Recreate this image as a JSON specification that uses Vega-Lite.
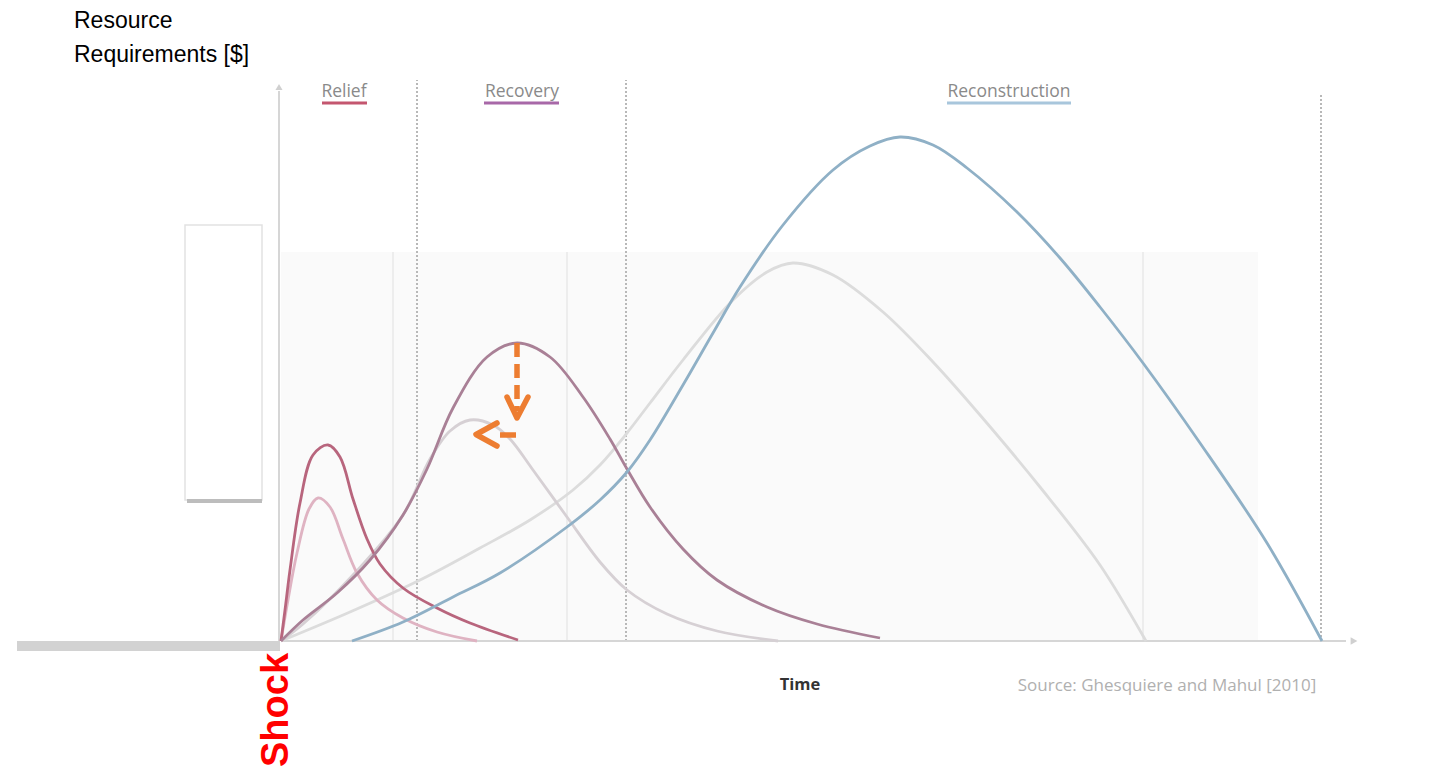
{
  "$schema": "https://vega.github.io/schema/vega-lite/v6.json",
  "width": 1437,
  "height": 770,
  "autosize": "none",
  "padding": 0,
  "background": "white",
  "config": {"view": {"stroke": null}},
  "encoding": {
    "x": {"field": "x", "type": "quantitative", "scale": {"domain": [-28.1, 115.6], "nice": false, "zero": false}, "axis": null},
    "y": {"field": "y", "type": "quantitative", "scale": {"domain": [-12.9, 64.1], "nice": false, "zero": false}, "axis": null}
  },
  "resolve": {"scale": {"color": "independent"}},
  "layer": [
    {
      "data": {"values": [{"x": 0, "x2": 97.7, "y": 0, "y2": 38.9}]},
      "mark": {"type": "rect", "fill": "#fafafa"},
      "encoding": {"x2": {"field": "x2"}, "y2": {"field": "y2"}}
    },
    {
      "data": {"values": [{"x": -9.6, "x2": -1.9, "y": 14.1, "y2": 41.6}]},
      "mark": {"type": "rect", "fill": "#ffffff", "stroke": "#e2e2e2", "strokeWidth": 1.5},
      "encoding": {"x2": {"field": "x2"}, "y2": {"field": "y2"}}
    },
    {
      "data": {"values": [{"x": -9.4, "x2": -1.9, "y": 14.0}]},
      "mark": {"type": "rule", "color": "#bdbdbd", "strokeWidth": 4},
      "encoding": {"x2": {"field": "x2"}}
    },
    {
      "data": {"values": [{"x": 11.2, "y": 0, "y2": 38.9}, {"x": 28.6, "y": 0, "y2": 38.9}, {"x": 86.2, "y": 0, "y2": 38.9}]},
      "mark": {"type": "rule", "color": "#e9e9e9", "strokeWidth": 1.5},
      "encoding": {"y2": {"field": "y2"}}
    },
    {
      "data": {"values": [{"x": 13.6, "y": 0, "y2": 56.1}, {"x": 34.5, "y": 0, "y2": 56.1}, {"x": 104.0, "y": 0, "y2": 54.6}]},
      "mark": {"type": "rule", "color": "#b8b8b8", "strokeWidth": 2, "strokeDash": [2, 2]},
      "encoding": {"y2": {"field": "y2"}}
    },
    {
      "data": {"values": [{"x": -0.2, "y": 0, "y2": 55.0}]},
      "mark": {"type": "rule", "color": "#d6d6d6", "strokeWidth": 2},
      "encoding": {"y2": {"field": "y2"}}
    },
    {
      "data": {"values": [{"x": 0, "x2": 106.5, "y": 0}]},
      "mark": {"type": "rule", "color": "#d6d6d6", "strokeWidth": 2},
      "encoding": {"x2": {"field": "x2"}}
    },
    {
      "data": {"values": [{"x": -26.4, "x2": -0.1, "y": -0.5}]},
      "mark": {"type": "rule", "color": "#d2d2d2", "strokeWidth": 10},
      "encoding": {"x2": {"field": "x2"}}
    },
    {
      "data": {"values": [{"x": -0.2, "y": 55.4}]},
      "mark": {"type": "point", "shape": "triangle-up", "filled": true, "size": 50, "color": "#d0d0d0", "opacity": 1}
    },
    {
      "data": {"values": [{"x": 107.3, "y": 0}]},
      "mark": {"type": "point", "shape": "triangle-right", "filled": true, "size": 60, "color": "#d0d0d0", "opacity": 1}
    },
    {
      "data": {"values": [
        {"p": "Relief", "x": 4.1, "x2": 8.6, "y": 53.8},
        {"p": "Recovery", "x": 20.3, "x2": 27.8, "y": 53.8},
        {"p": "Reconstruction", "x": 66.6, "x2": 79.0, "y": 53.8}
      ]},
      "mark": {"type": "rule", "strokeWidth": 3},
      "encoding": {
        "x2": {"field": "x2"},
        "color": {"field": "p", "type": "nominal", "legend": null,
          "scale": {"domain": ["Relief", "Recovery", "Reconstruction"], "range": ["#c4566f", "#a868a8", "#a8c6dc"]}}
      }
    },
    {
      "data": {"values": [
        {"s": "Reconstruction (reduced)", "x": 0, "y": 0}, {"s": "Reconstruction (reduced)", "x": 6.9, "y": 2.9}, {"s": "Reconstruction (reduced)", "x": 13.9, "y": 6.1}, {"s": "Reconstruction (reduced)", "x": 19.9, "y": 9.3}, {"s": "Reconstruction (reduced)", "x": 24.9, "y": 12.1}, {"s": "Reconstruction (reduced)", "x": 29.2, "y": 15.1}, {"s": "Reconstruction (reduced)", "x": 31.9, "y": 17.6}, {"s": "Reconstruction (reduced)", "x": 34.6, "y": 20.8}, {"s": "Reconstruction (reduced)", "x": 36.9, "y": 23.8}, {"s": "Reconstruction (reduced)", "x": 40.2, "y": 28.1}, {"s": "Reconstruction (reduced)", "x": 45.2, "y": 34.1}, {"s": "Reconstruction (reduced)", "x": 48.6, "y": 36.9}, {"s": "Reconstruction (reduced)", "x": 51.2, "y": 37.8}, {"s": "Reconstruction (reduced)", "x": 55.2, "y": 36.6}, {"s": "Reconstruction (reduced)", "x": 60.2, "y": 32.9}, {"s": "Reconstruction (reduced)", "x": 65.2, "y": 27.9}, {"s": "Reconstruction (reduced)", "x": 69.9, "y": 22.6}, {"s": "Reconstruction (reduced)", "x": 75.9, "y": 15.4}, {"s": "Reconstruction (reduced)", "x": 81.9, "y": 7.6}, {"s": "Reconstruction (reduced)", "x": 86.5, "y": 0},
        {"s": "Recovery (reduced)", "x": 0, "y": 0}, {"s": "Recovery (reduced)", "x": 2.2, "y": 1.7}, {"s": "Recovery (reduced)", "x": 7.2, "y": 6.6}, {"s": "Recovery (reduced)", "x": 12.2, "y": 12.6}, {"s": "Recovery (reduced)", "x": 14.9, "y": 18.2}, {"s": "Recovery (reduced)", "x": 16.9, "y": 21.0}, {"s": "Recovery (reduced)", "x": 18.9, "y": 22.1}, {"s": "Recovery (reduced)", "x": 21.2, "y": 21.6}, {"s": "Recovery (reduced)", "x": 22.9, "y": 20.2}, {"s": "Recovery (reduced)", "x": 25.2, "y": 17.1}, {"s": "Recovery (reduced)", "x": 28.6, "y": 12.4}, {"s": "Recovery (reduced)", "x": 31.9, "y": 7.9}, {"s": "Recovery (reduced)", "x": 34.6, "y": 5.1}, {"s": "Recovery (reduced)", "x": 38.6, "y": 2.7}, {"s": "Recovery (reduced)", "x": 43.6, "y": 1.0}, {"s": "Recovery (reduced)", "x": 49.7, "y": 0},
        {"s": "Relief (reduced)", "x": 0, "y": 0}, {"s": "Relief (reduced)", "x": 0.7, "y": 4.1}, {"s": "Relief (reduced)", "x": 1.6, "y": 8.8}, {"s": "Relief (reduced)", "x": 2.8, "y": 13.2}, {"s": "Relief (reduced)", "x": 3.7, "y": 14.3}, {"s": "Relief (reduced)", "x": 4.9, "y": 13.4}, {"s": "Relief (reduced)", "x": 6.2, "y": 10.2}, {"s": "Relief (reduced)", "x": 7.6, "y": 6.8}, {"s": "Relief (reduced)", "x": 9.6, "y": 4.1}, {"s": "Relief (reduced)", "x": 12.2, "y": 2.3}, {"s": "Relief (reduced)", "x": 15.6, "y": 0.9}, {"s": "Relief (reduced)", "x": 19.6, "y": 0},
        {"s": "Relief", "x": 0, "y": 0}, {"s": "Relief", "x": 0.4, "y": 3.1}, {"s": "Relief", "x": 0.9, "y": 7.1}, {"s": "Relief", "x": 1.9, "y": 13.8}, {"s": "Relief", "x": 3.2, "y": 18.6}, {"s": "Relief", "x": 4.7, "y": 19.6}, {"s": "Relief", "x": 5.9, "y": 18.4}, {"s": "Relief", "x": 7.2, "y": 14.2}, {"s": "Relief", "x": 8.6, "y": 10.2}, {"s": "Relief", "x": 9.9, "y": 7.7}, {"s": "Relief", "x": 12.2, "y": 5.3}, {"s": "Relief", "x": 15.6, "y": 3.3}, {"s": "Relief", "x": 18.9, "y": 1.8}, {"s": "Relief", "x": 23.7, "y": 0.1},
        {"s": "Recovery", "x": 0, "y": 0}, {"s": "Recovery", "x": 2.2, "y": 2.1}, {"s": "Recovery", "x": 5.6, "y": 4.8}, {"s": "Recovery", "x": 8.9, "y": 8.1}, {"s": "Recovery", "x": 12.2, "y": 12.6}, {"s": "Recovery", "x": 14.6, "y": 17.2}, {"s": "Recovery", "x": 17.2, "y": 23.3}, {"s": "Recovery", "x": 20.6, "y": 28.4}, {"s": "Recovery", "x": 23.6, "y": 29.8}, {"s": "Recovery", "x": 26.9, "y": 28.4}, {"s": "Recovery", "x": 30.2, "y": 24.4}, {"s": "Recovery", "x": 32.9, "y": 20.2}, {"s": "Recovery", "x": 34.6, "y": 17.2}, {"s": "Recovery", "x": 36.9, "y": 13.4}, {"s": "Recovery", "x": 40.2, "y": 9.2}, {"s": "Recovery", "x": 43.6, "y": 6.1}, {"s": "Recovery", "x": 48.6, "y": 3.4}, {"s": "Recovery", "x": 53.6, "y": 1.7}, {"s": "Recovery", "x": 59.9, "y": 0.3},
        {"s": "Reconstruction", "x": 7.1, "y": 0}, {"s": "Reconstruction", "x": 12.2, "y": 1.9}, {"s": "Reconstruction", "x": 17.2, "y": 4.4}, {"s": "Reconstruction", "x": 21.9, "y": 6.8}, {"s": "Reconstruction", "x": 28.6, "y": 11.4}, {"s": "Reconstruction", "x": 31.9, "y": 14.1}, {"s": "Reconstruction", "x": 34.6, "y": 16.9}, {"s": "Reconstruction", "x": 36.9, "y": 20.1}, {"s": "Reconstruction", "x": 40.2, "y": 25.6}, {"s": "Reconstruction", "x": 43.2, "y": 30.8}, {"s": "Reconstruction", "x": 45.9, "y": 35.4}, {"s": "Reconstruction", "x": 50.2, "y": 41.6}, {"s": "Reconstruction", "x": 55.2, "y": 47.1}, {"s": "Reconstruction", "x": 58.9, "y": 49.5}, {"s": "Reconstruction", "x": 61.9, "y": 50.4}, {"s": "Reconstruction", "x": 65.2, "y": 49.6}, {"s": "Reconstruction", "x": 68.6, "y": 47.3}, {"s": "Reconstruction", "x": 73.6, "y": 42.9}, {"s": "Reconstruction", "x": 77.9, "y": 38.3}, {"s": "Reconstruction", "x": 81.9, "y": 33.4}, {"s": "Reconstruction", "x": 86.2, "y": 27.8}, {"s": "Reconstruction", "x": 91.9, "y": 19.8}, {"s": "Reconstruction", "x": 98.6, "y": 9.8}, {"s": "Reconstruction", "x": 104.1, "y": 0}
      ]},
      "mark": {"type": "line", "interpolate": "catmull-rom", "strokeWidth": 2.8},
      "encoding": {
        "color": {"field": "s", "type": "nominal", "legend": null,
          "scale": {"domain": ["Reconstruction (reduced)", "Recovery (reduced)", "Relief (reduced)", "Relief", "Recovery", "Reconstruction"],
                    "range": ["#dcdcdc", "#d6d0d4", "#dfb3c2", "#b8657d", "#a98096", "#8fb0c6"]}}
      }
    },
    {
      "data": {"values": [{"x": 23.6, "y": 29.8}, {"x": 23.6, "y": 23.0}]},
      "mark": {"type": "line", "color": "#ed7d31", "strokeWidth": 5.5, "strokeDash": [14, 7], "strokeCap": "butt"}
    },
    {
      "data": {"values": [{"x": 21.9, "y": 20.6}, {"x": 23.5, "y": 20.6}]},
      "mark": {"type": "line", "color": "#ed7d31", "strokeWidth": 5.5, "strokeCap": "butt"}
    },
    {
      "data": {"values": [
        {"a": "down", "i": 0, "x": 22.6, "y": 24.4}, {"a": "down", "i": 1, "x": 23.6, "y": 22.3}, {"a": "down", "i": 2, "x": 24.7, "y": 24.4},
        {"a": "left", "i": 0, "x": 21.6, "y": 21.8}, {"a": "left", "i": 1, "x": 19.5, "y": 20.65}, {"a": "left", "i": 2, "x": 21.6, "y": 19.5}
      ]},
      "mark": {"type": "line", "color": "#ed7d31", "strokeWidth": 5.5, "strokeCap": "round", "strokeJoin": "round"},
      "encoding": {"detail": {"field": "a"}, "order": {"field": "i", "type": "quantitative"}}
    },
    {
      "data": {"values": [{"x": -20.7, "y": 61.3, "t": "Resource"}, {"x": -20.7, "y": 57.9, "t": "Requirements [$]"}]},
      "mark": {"type": "text", "align": "left", "baseline": "alphabetic", "font": "Liberation Sans", "fontSize": 23, "color": "#000000"},
      "encoding": {"text": {"field": "t"}}
    },
    {
      "data": {"values": [{"x": 6.3, "y": 54.9, "t": "Relief"}, {"x": 24.1, "y": 54.9, "t": "Recovery"}, {"x": 72.8, "y": 54.9, "t": "Reconstruction"}]},
      "mark": {"type": "text", "align": "center", "baseline": "middle", "font": "Open Sans", "fontSize": 17.5, "color": "#8a8a8a"},
      "encoding": {"text": {"field": "t"}}
    },
    {
      "data": {"values": [{"x": 51.9, "y": -4.4, "t": "Time"}]},
      "mark": {"type": "text", "align": "center", "baseline": "middle", "font": "Open Sans", "fontSize": 16.5, "fontWeight": "bold", "color": "#333333"},
      "encoding": {"text": {"field": "t"}}
    },
    {
      "data": {"values": [{"x": 88.6, "y": -4.5, "t": "Source: Ghesquiere and Mahul [2010]"}]},
      "mark": {"type": "text", "align": "center", "baseline": "middle", "font": "Open Sans", "fontSize": 17, "color": "#b0b0b0"},
      "encoding": {"text": {"field": "t"}}
    },
    {
      "data": {"values": [{"x": 0.7, "y": -6.9, "t": "Shock"}]},
      "mark": {"type": "text", "align": "center", "baseline": "alphabetic", "angle": 270, "font": "Liberation Sans", "fontSize": 38, "fontWeight": "bold", "color": "#ff0000"},
      "encoding": {"text": {"field": "t"}}
    }
  ]
}
